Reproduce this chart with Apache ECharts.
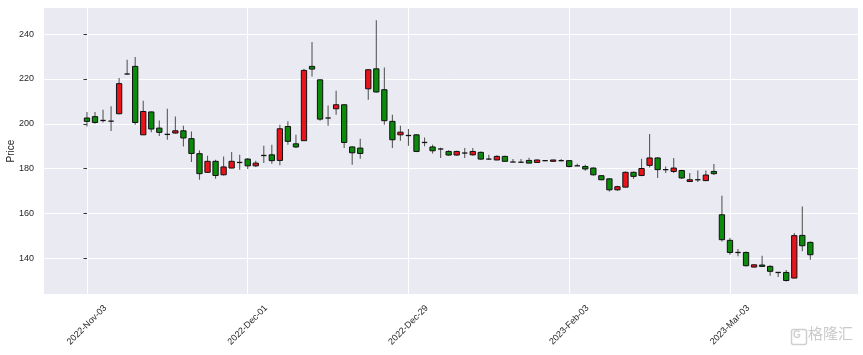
<!DOCTYPE html>
<html><head><meta charset="utf-8">
<script src="https://cdn.jsdelivr.net/npm/echarts@6/dist/echarts.min.js"></script>
<style>html,body{margin:0;padding:0;background:#fff}#c{width:863px;height:355px}</style>
</head><body><div id="c"></div>
<script>
const dates = [
 '2022-11-03','2022-11-04','2022-11-07','2022-11-08','2022-11-09','2022-11-10','2022-11-11','2022-11-14','2022-11-15','2022-11-16',
 '2022-11-17','2022-11-18','2022-11-21','2022-11-22','2022-11-23','2022-11-24','2022-11-25','2022-11-28','2022-11-29','2022-11-30',
 '2022-12-01','2022-12-02','2022-12-05','2022-12-06','2022-12-07','2022-12-08','2022-12-09','2022-12-12','2022-12-13','2022-12-14',
 '2022-12-15','2022-12-16','2022-12-19','2022-12-20','2022-12-21','2022-12-22','2022-12-23','2022-12-26','2022-12-27','2022-12-28',
 '2022-12-29','2022-12-30','2023-01-03','2023-01-04','2023-01-05','2023-01-06','2023-01-09','2023-01-10','2023-01-11','2023-01-12',
 '2023-01-13','2023-01-16','2023-01-17','2023-01-18','2023-01-19','2023-01-20','2023-01-30','2023-01-31','2023-02-01','2023-02-02',
 '2023-02-03','2023-02-06','2023-02-07','2023-02-08','2023-02-09','2023-02-10','2023-02-13','2023-02-14','2023-02-15','2023-02-16',
 '2023-02-17','2023-02-20','2023-02-21','2023-02-22','2023-02-23','2023-02-24','2023-02-27','2023-02-28','2023-03-01','2023-03-02',
 '2023-03-03','2023-03-06','2023-03-07','2023-03-08','2023-03-09','2023-03-10','2023-03-13','2023-03-14','2023-03-15','2023-03-16',
 '2023-03-17'
];
const openP = [
 202.6,203.2,201.5,201.2,204.5,222.2,225.6,195.1,205.3,198.1,
 195.3,195.9,196.9,193.4,186.7,178.4,183.3,177.3,180.3,182.8,
 184.3,181.3,185.9,186.2,183.7,198.8,191.1,192.5,225.6,219.6,
 202.6,206.7,208.5,189.7,189.2,215.6,224.5,215.2,201.1,195.1,
 194.8,195.1,191.7,189.7,188.8,187.7,186.1,187.0,186.2,187.3,
 184.3,183.9,185.5,183.0,182.9,183.7,182.8,183.6,183.3,183.6,
 183.6,181.3,181.0,180.3,176.9,175.5,170.6,171.8,178.4,177.0,
 181.5,184.8,179.6,178.8,179.2,174.3,175.1,174.7,178.8,159.5,
 148.1,142.7,142.7,136.2,137.1,136.5,133.8,133.8,131.3,150.3,
 147.2
];
const closeP = [
 201.1,200.6,201.5,201.2,217.9,222.2,200.6,205.5,197.7,196.2,
 195.3,196.9,193.7,186.8,177.8,183.3,177.0,180.8,183.3,182.8,
 181.3,182.5,185.9,183.6,197.8,192.2,189.7,223.8,224.4,202.1,
 202.6,208.5,191.7,187.1,186.8,224.1,214.2,201.4,192.9,196.3,
 194.8,187.7,191.7,188.0,188.8,186.1,187.7,187.0,187.7,184.3,
 184.3,185.5,183.3,183.0,182.9,182.5,183.9,183.6,183.9,183.6,
 181.0,181.3,179.9,177.3,175.1,170.6,172.0,178.4,176.6,180.1,
 184.8,179.6,179.6,180.3,175.9,175.1,175.1,177.2,177.8,148.4,
 142.7,142.7,136.8,137.2,136.5,134.3,133.8,130.2,150.2,145.7,
 141.7
];
const lowP = [
 198.8,200.0,200.6,196.8,204.3,221.9,199.6,195.0,196.2,194.6,
 192.9,195.6,189.9,183.0,175.1,178.1,175.5,177.0,180.2,179.6,
 179.9,180.8,182.5,182.2,181.6,190.7,189.2,192.3,221.1,201.4,
 199.2,204.1,189.2,181.8,184.5,210.7,213.8,199.6,189.2,192.5,
 190.2,187.4,190.0,186.8,184.8,185.8,185.8,184.8,185.8,183.9,
 183.9,183.8,183.3,182.9,182.7,182.5,182.7,183.3,183.2,183.3,
 180.6,181.2,179.1,176.9,174.9,169.9,170.2,171.7,175.5,176.6,
 180.6,175.9,178.1,178.1,175.4,174.2,174.1,174.5,177.2,147.6,
 141.7,141.0,136.5,136.0,136.4,132.3,131.8,129.8,131.2,143.2,
 139.5
];
const highP = [
 205.3,205.3,206.3,207.8,220.4,228.6,229.8,210.3,205.5,201.5,
 206.7,203.3,199.2,196.6,188.2,185.8,184.0,185.5,187.4,186.2,
 184.8,183.6,190.2,190.7,199.6,201.1,195.1,224.5,236.5,219.8,
 208.2,214.7,208.7,190.0,193.4,224.3,246.1,225.1,204.1,199.2,
 197.7,195.4,193.9,190.7,189.4,188.2,188.0,189.2,189.2,187.7,
 186.2,186.0,185.8,184.3,184.3,184.9,184.1,183.9,184.0,184.3,
 183.7,182.2,181.8,180.7,177.1,175.8,172.4,178.8,178.8,184.5,
 195.5,185.2,181.0,184.8,179.6,178.1,179.2,179.2,182.1,168.0,
 149.1,144.2,143.1,137.4,141.2,137.0,133.9,134.9,151.4,163.2,
 147.6
];
const tickIdx = [0, 20, 40, 60, 80];
const tickLabels = ['2022-Nov-03', '2022-Dec-01', '2022-Dec-29', '2023-Feb-03', '2023-Mar-03'];
const yTicks = [140, 160, 180, 200, 220, 240];

const data = dates.map((d, i) => [i, openP[i], closeP[i], lowP[i], highP[i]]);

function renderItem(params, api) {
  const x = api.value(0), o = api.value(1), c = api.value(2), l = api.value(3), h = api.value(4);
  const pO = api.coord([x, o]), pC = api.coord([x, c]), pL = api.coord([x, l]), pH = api.coord([x, h]);
  const w = api.size([1, 0])[0] * 0.66;
  const xc = pO[0];
  const top = Math.min(pO[1], pC[1]), bot = Math.max(pO[1], pC[1]);
  const children = [{
    type: 'line', shape: {x1: xc, y1: pH[1], x2: xc, y2: pL[1]},
    style: {stroke: '#5a5a5a', lineWidth: 1.1}
  }];
  if (o === c) {
    children.push({type: 'line', shape: {x1: xc - w / 2, y1: top, x2: xc + w / 2, y2: top},
      style: {stroke: '#111', lineWidth: 1.3}});
  } else {
    children.push({type: 'rect', shape: {x: xc - w / 2, y: top, width: w, height: Math.max(bot - top, 1)},
      style: {fill: c > o ? '#e8141c' : '#0b8a0b', stroke: '#111', lineWidth: 1}});
  }
  return {type: 'group', children};
}

const chart = echarts.init(document.getElementById('c'), null, {renderer: 'canvas'});
const labelFont = {color: '#262626', fontSize: 9, fontFamily: 'Liberation Sans, Arial, sans-serif'};
chart.setOption({
  animation: false,
  backgroundColor: '#ffffff',
  grid: {left: 43, right: 5, top: 8, bottom: 61, show: true, backgroundColor: '#EAEAF2', borderWidth: 0,
         containLabel: false, outerBoundsMode: 'none'},
  xAxis: {
    type: 'value', min: -5.47, max: 95.93, splitNumber: 5,
    axisLine: {show: false},
    axisTick: {show: false},
    axisLabel: Object.assign({
      customValues: tickIdx,
      formatter: v => { const k = tickIdx.indexOf(Math.round(v)); return k >= 0 ? tickLabels[k] : ''; },
      rotate: 45, align: 'center', verticalAlign: 'middle', margin: 31
    }, labelFont),
    splitLine: {show: true, lineStyle: {color: '#ffffff', width: 1}}
  },
  yAxis: {
    type: 'value', min: 124.2, max: 251.6, splitNumber: 6,
    name: 'Price', nameLocation: 'middle', nameGap: 27, nameRotate: 90, nameMoveOverlap: false,
    nameTextStyle: {color: '#262626', fontSize: 10, fontFamily: 'Liberation Sans, Arial, sans-serif'},
    axisLine: {show: false},
    axisTick: {show: true, customValues: yTicks, length: 3.5, lineStyle: {color: '#333', width: 1}},
    axisLabel: Object.assign({customValues: yTicks, margin: 9}, labelFont),
    splitLine: {show: true, lineStyle: {color: '#ffffff', width: 1}}
  },
  series: [{
    type: 'custom', renderItem: renderItem, data: data,
    encode: {x: 0, y: [1, 2, 3, 4]}, clip: true
  }],
  graphic: [
    {type: 'rect', left: 789, top: 327, shape: {width: 15, height: 15, r: 2},
     style: {fill: 'none', stroke: '#cfcfcf', lineWidth: 1.5}},
    {type: 'text', left: 793, top: 330, style: {text: 'G', fill: '#cfcfcf', font: 'bold 10px Liberation Sans'}},
    {type: 'text', left: 808, top: 326, style: {text: '格隆汇', fill: '#cacaca', font: '15px "Noto Sans CJK SC"'}}
  ]
});
</script>
</body></html>
